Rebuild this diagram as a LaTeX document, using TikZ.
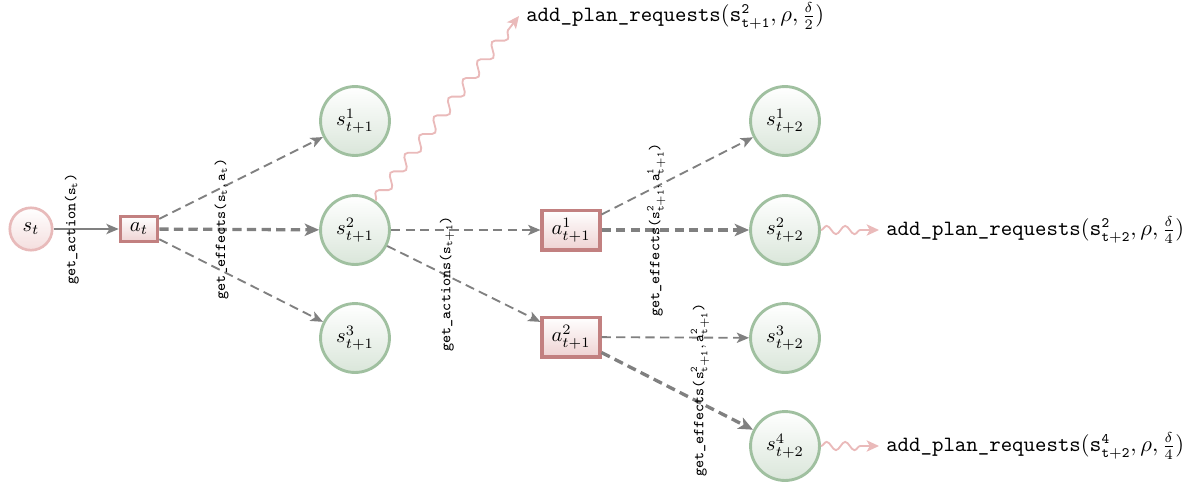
\documentclass[tikz,border=0pt]{standalone}
\usetikzlibrary{arrows.meta,decorations.pathmorphing}

\definecolor{stline}{RGB}{160,192,160}
\definecolor{stfill}{RGB}{218,230,218}
\definecolor{acline}{RGB}{194,128,128}
\definecolor{acfill}{RGB}{238,210,210}
\definecolor{rootline}{RGB}{232,186,186}
\definecolor{rootfill}{RGB}{244,222,222}
\definecolor{edgegray}{RGB}{128,128,128}
\definecolor{snakepink}{RGB}{234,186,186}

\begin{document}
\begin{tikzpicture}[x=0.486pt,y=-0.486pt,
  statenode/.style={circle, draw=stline, line width=1.4pt, top color=white,
    bottom color=stfill, minimum size=33.5pt, inner sep=0pt},
  rootnode/.style={circle, draw=rootline, line width=1.3pt, top color=white,
    bottom color=rootfill, minimum size=20.6pt, inner sep=0pt},
  actnode/.style={rectangle, draw=acline, line width=1.5pt, top color=white,
    bottom color=acfill, inner sep=0pt},
  solidedge/.style={draw=edgegray, line width=0.9pt,
    -{Stealth[length=6pt,width=5pt,inset=1.5pt]}},
  thinedge/.style={draw=edgegray, line width=0.9pt, dash pattern=on 4.5pt off 2.6pt,
    -{Stealth[length=6pt,width=5pt,inset=1.5pt]}},
  thickedge/.style={draw=edgegray, line width=1.6pt, dash pattern=on 4.5pt off 2.6pt,
    -{Stealth[length=7pt,width=6pt,inset=1.8pt]}},
  lbl/.style={rotate=90, font=\fontsize{7.4}{9}\selectfont\ttfamily, inner sep=0pt},
  plan/.style={anchor=west, font=\fontsize{10.6}{12}\selectfont\ttfamily},
  wiggle/.style={draw=snakepink, line width=0.9pt, decorate,
    -{Stealth[length=6pt,width=5.5pt,inset=1.5pt]}}
]
\useasboundingbox (0,0) rectangle (1197,488);

% states and actions
\node[rootnode] (st) at (31,229) {$s_t$};
\node[actnode, minimum width=18.2pt, minimum height=12.4pt] (at) at (139,229) {$a_t$};

\node[statenode] (s11) at (355,121) {$s^1_{t+1}$};
\node[statenode] (s21) at (355,230) {$s^2_{t+1}$};
\node[statenode] (s31) at (355,338) {$s^3_{t+1}$};

\node[actnode, minimum width=28.2pt, minimum height=19.4pt] (a1) at (571,230) {$a^1_{t+1}$};
\node[actnode, minimum width=28.2pt, minimum height=19.4pt] (a2) at (571,337) {$a^2_{t+1}$};

\node[statenode] (s12) at (785,121) {$s^1_{t+2}$};
\node[statenode] (s22) at (785,230) {$s^2_{t+2}$};
\node[statenode] (s32) at (785,338) {$s^3_{t+2}$};
\node[statenode] (s42) at (785,446) {$s^4_{t+2}$};

% planning requests
\node[plan] (p1) at (519,16) {add\_plan\_requests$(\mathtt{s^2_{t+1}}, \rho, \frac{\delta}{2})$};
\node[plan] (p2) at (879,230) {add\_plan\_requests$(\mathtt{s^2_{t+2}}, \rho, \frac{\delta}{4})$};
\node[plan] (p3) at (879,446) {add\_plan\_requests$(\mathtt{s^4_{t+2}}, \rho, \frac{\delta}{4})$};

% expansion edges (shifts are given before the rotation of the label)
\draw[solidedge] (st) -- node[lbl, pos=0.28] {get\_action($\mathtt{s_t}$)} (at);

\draw[thinedge] (at) -- (s11);
\draw[thickedge] (at) -- node[lbl, pos=0.39] {get\_effects($\mathtt{s_t, a_t}$)} (s21);
\draw[thinedge] (at) -- (s31);

\draw[thinedge] (s21) -- (a1);
\draw[thinedge] (s21) -- node[yshift=-4pt, lbl, pos=0.39] {get\_actions($\mathtt{s_{t+1}}$)} (a2);

\draw[thinedge] (a1) -- (s12);
\draw[thickedge] (a1) -- node[lbl, pos=0.37] {get\_effects($\mathtt{s^2_{t+1}, a^1_{t+1}}$)} (s22);

\draw[thinedge] (a2) -- (s32);
\draw[thickedge] (a2) -- node[yshift=6pt, lbl, pos=0.65] {get\_effects($\mathtt{s^2_{t+1}, a^2_{t+1}}$)} (s42);

% request arrows
\draw[wiggle, decoration={snake, amplitude=2.6pt, segment length=11.5pt, post length=6pt}] (s21.55) -- (p1.west);
\draw[wiggle, decoration={snake, amplitude=2pt, segment length=9pt, post length=7pt}] (s22.east) -- (p2.west);
\draw[wiggle, decoration={snake, amplitude=2pt, segment length=9pt, post length=7pt}] (s42.east) -- (p3.west);
\end{tikzpicture}
\end{document}
